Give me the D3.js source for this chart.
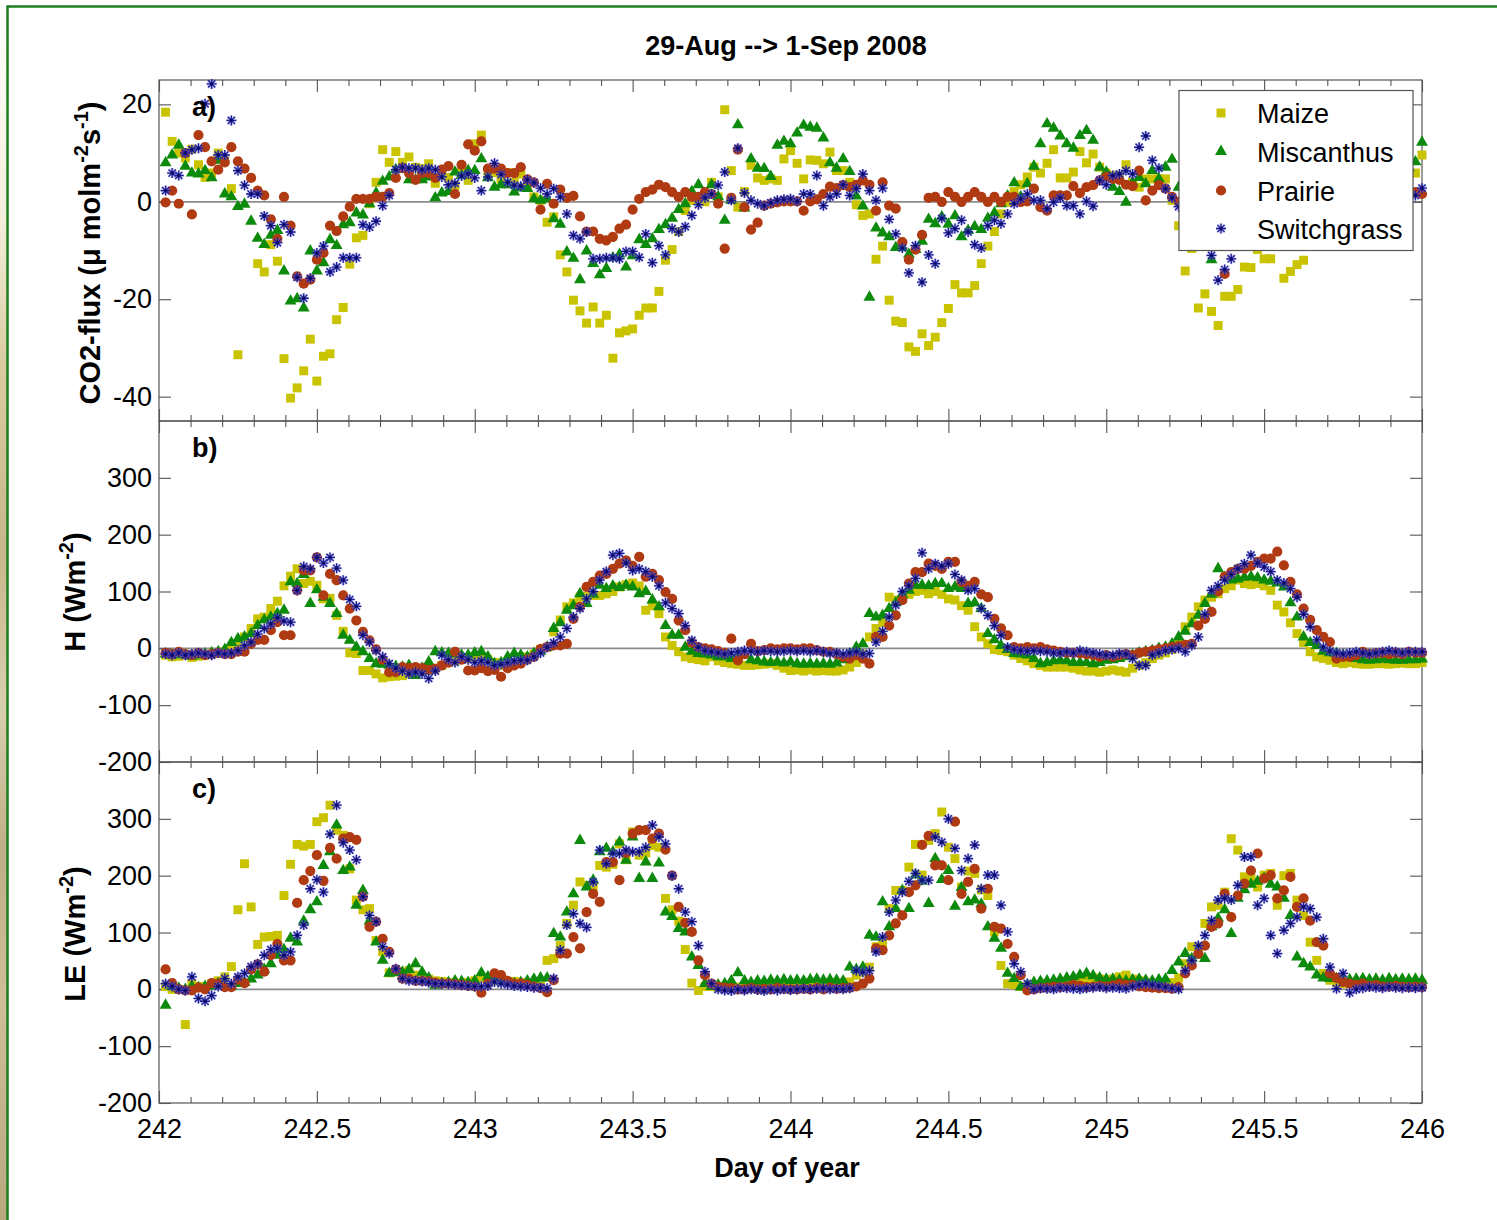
<!DOCTYPE html>
<html>
<head>
<meta charset="utf-8">
<script src="https://cdn.jsdelivr.net/npm/d3@7"></script>
<style>
  html, body { margin: 0; padding: 0; background: #ffffff; }
  svg { display: block; }
</style>
</head>
<body>
<svg id="fig" width="1497" height="1220"></svg>
<script>
// Half-hourly flux records, day of year 242-246 (29 Aug - 1 Sep 2008).
// Sample i sits at day 242 + (i + 1) / 48.
const firstDay = 242;
const samplesPerDay = 48;

const seriesNames = ["Maize", "Miscanthus", "Prairie", "Switchgrass"];
const xMajorTicks = [242, 242.5, 243, 243.5, 244, 244.5, 245, 245.5, 246];
const co2Ticks = [-40, -20, 0, 20];
const energyTicks = [-200, -100, 0, 100, 200, 300];

// a) CO2 flux (umol m-2 s-1)
const co2Maize = [
  18.4, 12.4, 10, 9, 10.8, 7.6, 5, 5.9, 10, 8.5, 2.7, -31.4,
  null, null, -12.7, -14.4, -8.8, -12.2, -32.2, -40.3, -38.2, -34.7, -28.2, -36.8,
  -31.7, -31.2, -24.2, -21.7, -12.8, -7.4, -6.9, -0.4, 4, 10.7, 8.1, 10.3,
  8.1, 9.2, 7.1, 6.8, 7.8, 3.8, 5.4, 5, 3.3, 6, 4.4, 11.9,
  13.7, 5.5, 6, 4.7, 6, 4, 5.7, 3, 1, 0.3, -4.2, -3.1,
  -10.9, -14.4, -20.2, -22.4, -24.9, -21.6, -24.9, -23.3, -32.1, -26.9, -26.5, -26.1,
  -23.3, -21.8, -21.8, -18.4, -12, -9.8, -6.1, -1.8, 0.3, 0.6, 0, 4,
  1, 18.9, 6.4, -1.1, 2.1, 7.5, 4.9, 4.4, 4.7, 4.4, 8.8, 10.5,
  7.9, 4.7, 8.6, 8.5, 7.8, 10.2, 6.4, 6.4, 4, -0.6, -2.8, -2.5,
  -11.8, -9.1, -20.2, -24.5, -24.8, -29.8, -30.7, -27.1, -29.5, -27.8, -24.8, -21.9,
  -17, -18.7, -18.7, -17.2, -12.7, -9.1, -6.1, -2.5, -0.1, 2.1, 3.5, 5.1,
  7.1, 5.9, 7.9, 10.7, 4.9, 4.9, 6.1, 10.3, 8, 9.8, 7.1, 5.9,
  5.4, 5.4, 7.6, 4, 3, 4.7, 4.7, 4.7, 4.7, 0.3, -4.9, -14.2,
  -9.6, -21.8, -18.9, -22.5, -25.4, -19.4, -19.4, -18, -13.4, -13.5, -9.8, -11.7,
  -11.7, null, -15.7, -14.3, -12.9, -12, -8, -6, -4, -2, 0, 1,
  2, 3, 4, 4, 5, 5, 4, 5, 6, 5, 5.9, 9.6
];
const co2Miscanthus = [
  8, 9.6, 11.6, 7.3, 5.9, 5.7, 6.4, 4.9, 8.5, 1.6, 1, -1,
  -0.5, -4, -7.5, -8.8, -6.9, -5.9, -14.2, -20.4, -19.9, -21.8, -10.1, -14.2,
  -12.5, -7.8, -9, -4.7, -4.3, -2.3, -2.7, -0.4, 1.8, 4.2, 5.1, 6.6,
  6.8, 4.5, 4.5, 4.5, 5.1, 0.8, 1.8, 2.1, 6.1, 5.4, 6.4, 6.4,
  8.8, 4.9, 3, 3.5, 3.5, 2, 2.8, 2.7, 0.6, 0.3, 0.6, -3.5,
  -4.6, -10.3, -11.6, -16, -10.1, -12.7, -15, -13.7, -11.5, -10.8, -13.4, -11.1,
  -7.8, -8.8, -7.6, -5.7, -4.7, -3.4, -1.6, -0.4, 2.1, 3.5, 1.4, 3.5,
  1, -3.8, 0.3, 15.8, -1.3, 8.8, 6.9, 6.8, 5.2, 11.6, 12.4, 11.9,
  14.1, 15.7, 15.3, 15.1, 13.1, 8, 6.9, 8.8, 6.2, 1.2, -0.9, -19.6,
  -5.4, -6.4, -7.2, -9.4, -9.4, -10.8, -9.8, -8.1, -3.6, -4.5, -3.1, -4.6,
  -2.9, -7.2, -5.9, -5.1, -5.7, -3.4, -2.3, -0.4, 1.2, 3.9, 1, 3.7,
  7.3, 11.9, 16, 15.1, 13.5, 11.9, 11, 13.6, 14.6, 12.6, 7.1, 6.1,
  3, 2.1, -0.1, 4, 5, 3.7, 6.4, 4.7, 7.1, 8.7, 3, 0,
  -3, -6, -8, -11.9, -8, -7, -6, -5, -5, -4, -3, -2,
  -1, 0, 1, 2, 3, 3, 4, 5, 5, 6, 7, 6,
  7, 8, 7, 8, 8, 9, 8, 9, 9, 7, 8.2, 12.2
];
const co2Prairie = [
  -0.1, 2.3, -0.4, 10, -2.6, 13.7, 11.2, 8.3, 6.6, 8.1, 11.2, 8.3,
  6.8, 4.9, 2.3, 1.3, -3.6, -7.6, 1, -4.9, -15.3, -16.8, -16, -11.9,
  -10.5, -4.9, -6, -3, -1, 0.6, 0.6, 0.6, 1, 1, 1.8, 4.9,
  6.9, 5.9, 4.5, 5.9, 5.9, 4.9, 6.6, 7.3, 1.6, 7.6, 11.8, 10.5,
  12.4, 6.8, 6.8, 6.8, 5.9, 5.9, 7.1, 4.6, 4, -1.6, 3.7, -0.4,
  2.5, 0.8, 1.2, -3, -6.1, -6.1, -7.6, -7.9, -7.2, -5.5, -4.7, -1.6,
  0.6, 2, 2.5, 3.5, 3, 2, 1, 2, 1, 1, 2, 1.6,
  -0.4, -9.6, 0.8, 10.7, -1.1, -5.7, -4.3, -0.8, -0.4, -0.1, 0.1, 0.1,
  0.1, -1.8, 0.1, 0.5, 1.6, 3.1, 2.8, 3.4, 3, 3.5, 4.4, 3.5,
  -1.8, 4, -0.8, -1.4, -8.3, -11.9, -9.8, -6.8, 0.8, 1, 0, 2,
  1, 0, 1, 2, 1, 0, 1, 0, 1, 1, 0, 0.1,
  2.7, -1.1, -1.8, 1.3, 1.3, 1.3, 3.2, 1.8, 3, 3.4, 4.4, 5.1,
  4.7, 4.5, 3.5, 3.2, 6.4, 0.3, 2.3, 3.4, 2.7, 1, 0, -2,
  -4, -6, -8, -9, -9, -14.8, -8, -7, -5, -4, -3, -2,
  -1, 0, 1, 1, 2, 2, 2, 3, 2, 3, 2, 3,
  2, 3, 2, 2, 3, 2, 2, 3, 2, 2, 2, 1.6
];
const co2Switchgrass = [
  2.3, 5.9, 5.4, 10, 10.7, 11, 20.1, 24.2, 9.6, 9.6, 16.7, 6.4,
  3.4, 1.6, 1.6, -2.9, -4.9, -8.4, -4.7, -6.2, -15.5, -19.8, -15.7, -10.5,
  -9.1, -14.4, -13.4, -11.5, -11.5, -11.5, -4.7, -5.2, -4, -0.8, 1.3, 6.6,
  7.1, 6.9, 6.9, 6.6, 6.9, 6.6, 5.1, 3.5, 3.8, 5.3, 5.7, 4.9,
  2.3, 5.1, 7.9, 5.6, 4, 3.4, 3.2, 4.5, 3.9, 2.8, 1.6, 2.7,
  1, -2.5, -6.9, -7.6, -6.2, -11.7, -11.7, -11.5, -11.5, -11.7, -10.2, -10.2,
  -11.4, -6.6, -12.5, -9, -10.9, -5.5, -6.2, -5.1, -2.8, -0.6, 0.8, 1.6,
  3.4, 6.1, 0.3, 11, 1.8, 0.3, -0.4, -0.8, -0.2, 0.3, 0.5, 0.6,
  0.1, 1.6, 1.6, 5.4, -0.8, 1, 1.6, 3.5, 1.3, 2.7, 5.7, 2.3,
  0.3, 2.8, -3.6, -6.6, -9.5, -14.6, -9, -16.5, -10.9, -12.7, -3.4, -6.4,
  -5.5, -3.8, -6.2, -8.8, -9.5, -4.9, -3.8, -4.5, -2.5, -0.4, 0.6, 1.6,
  0.3, 0.3, -1.4, -0.1, 0.8, -0.8, -0.8, -2.5, 0.1, -0.9, 4.4, 3.5,
  5.4, 5.7, 6.4, 5.7, 11.2, 13.5, 8.5, 6.9, 2.7, 0.8, -1, -3,
  -5, -7, -9, -11, -16.1, -13.9, -11.7, -8, -7, -6, -5, -4,
  -3, -2, -1, 0, 1, 1, 2, 2, 3, 2, 3, 2,
  3, 2, 3, 2, 2, 3, 2, 2, 2, 1, 1.3, 2.8
];

// b) sensible heat flux H (W m-2)
const hMaize = [
  -12, -15, -14, -12, -16, -14, -12, -10, -9, -6, -2, 8,
  20, 35, 52, 55, 70, 83, 110, 127, 140, 114, 118, 111,
  87, 88, 58, 30, -8, -9, -39, -39, -45, -52, -50, -49,
  -48, -45, -40, -40, -38, -35, -30, -25, -22, -20, -18, -15,
  -15, -20, -25, -30, -30, -25, -20, -15, -10, -2, 2, 29,
  50, 73, 80, 90, 92, 93, 93, 96, 100, 108, 112, 115,
  110, 67, 75, 61, 20, 5, -6, -15, -18, -20, -22, -15,
  -22, -25, -27, -28, -30, -30, -29, -28, -27, -30, -35, -39,
  -38, -40, -38, -40, -39, -40, -40, -38, -33, -25, -10, 20,
  35, 46, 90, 85, 87, 95, 100, 102, 96, 100, 95, 87,
  85, 75, 67, 38, 20, 8, -2, -4, -6, -12, -18, -22,
  -27, -30, -33, -33, -33, -33, -35, -38, -40, -40, -42, -40,
  -38, -40, -42, -35, -30, -25, -18, -12, -8, -2, 10, 38,
  55, 73, 85, 90, 96, 105, 110, 120, 114, 112, 114, 110,
  102, 76, 64, 45, 26, 10, -6, -15, -18, -21, -25, -27,
  -25, -27, -28, -28, -27, -27, -28, -27, -26, -27, -27, -25
];
const hMiscanthus = [
  -10, -12, -10, -12, -14, -12, -10, -8, -6, -2, 10, 17,
  20, 26, 40, 50, 55, 61, 67, 117, 114, 130, 79, 103,
  90, 79, 61, 23, 14, 2, -6, -18, -27, -28, -30, -32,
  -33, -30, -48, -35, -24, -6, -8, -9, -10, -12, -12, -8,
  -6, -15, -27, -25, -15, -9, -12, -15, -9, -5, 2, 35,
  45, 67, 75, 96, 79, 95, 111, 105, 110, 107, 111, 108,
  96, 100, 85, 73, 40, 23, 23, 2, -5, -9, -10, -12,
  -15, -15, -18, -12, -12, -20, -22, -24, -25, -24, -26, -24,
  -27, -28, -27, -28, -27, -28, -26, -20, -10, 2, 8, 61,
  55, 58, 70, 80, 95, 102, 111, 111, 110, 114, 114, 105,
  108, 105, 79, 80, 70, 26, 15, 5, -2, -9, -10, -12,
  -18, -27, -25, -22, -21, -22, -25, -25, -25, -27, -25, -21,
  -20, -18, -15, -12, -8, -6, -4, 0, 2, 8, 20, 30,
  43, 58, 79, 95, 140, 125, 120, 122, 125, 126, 124, 120,
  118, 115, 108, 80, 55, 20, 10, 5, -5, -8, -9, -12,
  -15, -18, -20, -21, -20, -19, -20, -21, -21, -20, -20, -19
];
const hPrairie = [
  -8, -10, -6, -10, -12, -8, -12, -10, -8, -10, -10, -6,
  -6, 8, 15, 15, 32, 46, 23, 23, 102, 137, 137, 160,
  93, 131, 120, 93, 70, 49, 29, 14, -2, -20, -42, -42,
  -33, -35, -33, -35, -38, -36, -30, -25, -6, -20, -39, -39,
  -35, -40, -38, -50, -35, -30, -27, -20, -15, -1, 2, 5,
  5, 8, 52, 73, 108, 117, 128, 131, 140, 149, 155, 145,
  161, 126, 131, 120, 99, 87, 49, 32, 10, 2, 0, -2,
  -5, -8, 17, -21, -10, 8, -5, -3, 0, -2, 0, 0,
  -2, 0, 0, -3, -6, -6, -10, -15, -18, -12, -18, -27,
  20, 20, 40, 58, 85, 114, 134, 134, 149, 145, 140, 152,
  152, 117, 110, 117, 95, 90, 52, 35, 23, 2, 0, 2,
  0, 2, -2, -4, -6, -8, -8, -9, -10, -12, -15, -12,
  -15, -12, -10, -12, -8, -6, -4, -2, 0, 2, 4, 6,
  8, 40, 52, 64, 100, 126, 134, 140, 140, 145, 152, 158,
  158, 170, 146, 117, 95, 70, 50, 32, 20, 11, -18, -15,
  -15, -12, -6, -10, -9, -8, -10, -8, -10, -6, -8, -8
];
const hSwitchgrass = [
  -10, -12, -8, -12, -10, -8, -10, -12, -8, -10, -8, -4,
  5, 11, 25, 35, 43, 54, 48, 46, 102, 144, 140, 160,
  150, 160, 141, 120, 86, 74, 23, 11, -4, -15, -27, -35,
  -40, -45, -42, -45, -53, -40, -12, -20, -25, -15, -20, -25,
  -22, -25, -30, -28, -25, -22, -21, -21, -15, -8, 2, 10,
  20, 35, 55, 70, 87, 100, 120, 135, 164, 167, 150, 137,
  140, 135, 126, 110, 80, 70, 61, 40, 14, 2, -4, -6,
  -8, -10, -8, -6, -4, -5, -6, -4, -5, -6, -5, -4,
  -5, -4, -6, -4, -6, -9, -8, -10, -8, -6, -10, -9,
  11, 30, 55, 76, 100, 110, 123, 168, 140, 149, 145, 149,
  130, 120, 102, 105, 70, 58, 40, 23, 2, -2, -4, -5,
  -4, -5, -6, -8, -8, -6, -8, -4, -6, -8, -10, -12,
  -12, -9, -10, -18, -30, -30, -12, -8, -4, -2, 0, -6,
  5, 20, 60, 102, 110, 120, 130, 140, 149, 164, 150, 143,
  135, 120, 115, 105, 90, 60, 38, 15, 2, -5, -8, -10,
  -8, -6, -8, -10, -8, -6, -4, -6, -8, -6, -6, -6
];

// c) latent heat flux LE (W m-2)
const leMaize = [
  5, 0, 0, -62, 10, 5, 5, 10, 15, 22, 40, 140,
  221, 145, 79, 92, 93, 95, 165, 220, 255, 252, 255, 295,
  302, 324, 280, 271, 212, 157, 140, 142, 86, 66, 29, 33,
  30, 33, 25, 20, 18, 15, 14, 12, 10, 10, 12, 15,
  20, 18, 15, 15, 12, 14, 12, 10, 8, 6, 51, 54,
  77, 116, 148, 189, 183, 180, 218, 215, 220, 256, 228, 277,
  236, 240, 253, 250, 160, 140, 120, 70, 11, -2, 5, 5,
  3, 4, 5, 4, 3, 5, 4, 3, 5, 4, 5, 6,
  8, 10, 12, 10, 10, 12, 11, 10, 13, 25, 30, 39,
  75, 80, 142, 174, 174, 215, 255, 201, 262, 274, 312, 250,
  230, 180, 208, 204, 175, 165, 101, 42, 10, 8, 5, 5,
  5, 8, 10, 10, 12, 14, 15, 16, 18, 20, 18, 15,
  18, 22, 25, 18, 15, 12, 10, 10, 12, 12, 20, 45,
  75, 75, 116, 145, 148, 171, 265, 245, 198, 195, 180, 201,
  204, 148, 200, 204, 157, 130, 83, 51, 28, 16, 12, 10,
  12, 10, 12, 10, 12, 11, 10, 12, 10, 11, 12, 10
];
const leMiscanthus = [
  -28, 5, 2, 0, 5, 3, 5, 6, 10, 8, 5, 10,
  12, 18, 25, 35, 45, 60, 70, 90, 83, 120, 140, 154,
  218, 242, 289, 209, 215, 148, 174, 120, 83, 51, 28, 29,
  30, 35, 45, 30, 20, 7, 10, 12, 15, 14, 12, 15,
  29, 22, 18, 15, 12, 10, 12, 15, 18, 20, 20, 98,
  92, 136, 168, 262, 180, 192, 242, 248, 242, 259, 227, 268,
  195, 224, 195, 222, 136, 128, 107, 101, 57, 42, 10, 5,
  8, 10, 15, 29, 15, 12, 15, 14, 16, 15, 17, 15,
  16, 15, 17, 18, 16, 17, 16, 15, 39, 35, 39, 95,
  92, 154, 110, 142, 174, 142, 201, 190, 151, 230, 193, 209,
  146, 179, 154, 157, 150, 110, 90, 72, 28, 19, 4, 8,
  12, 14, 15, 16, 18, 20, 22, 25, 28, 24, 20, 18,
  18, 16, 15, 17, 18, 16, 15, 17, 18, 33, 48, 63,
  54, 60, 54, 110, 125, 140, 98, 160, 175, 185, 190, 195,
  185, 180, 160, 130, 57, 45, 39, 25, 20, 19, 19, 18,
  17, 18, 19, 17, 18, 16, 19, 17, 18, 17, 18, 16
];
const lePrairie = [
  35, 11, 0, -2, -2, 3, 0, 11, 10, 4, 4, 17,
  11, 35, 44, 31, 60, 80, 51, 51, 152, 192, 208, 236,
  191, 249, 230, 265, 268, 263, 163, 110, 119, 89, 66, 35,
  19, 19, 15, 15, 14, 12, 10, 10, 9, 8, 6, 5,
  -6, 10, 28, 25, 15, 10, 10, 8, 5, 2, -5, 16,
  63, 63, 92, 72, 136, 168, 154, 224, 224, 192, 240, 274,
  280, 280, 265, 274, 246, 200, 145, 117, 101, 51, 25, 10,
  5, 3, 2, 0, 0, 2, 0, 1, 0, 2, 1, 0,
  0, 1, 0, 2, 0, 3, 1, 2, 3, 5, 10, 19,
  72, 69, 95, 116, 130, 171, 183, 254, 270, 218, 218, 192,
  295, 168, 189, 212, 142, 177, 110, 107, 80, 57, 25, -2,
  0, 2, 3, 5, 4, 5, 8, 6, 4, 5, 6, 5,
  7, 10, 8, 8, 5, 4, 3, 2, 2, 1, 4, 28,
  42, 63, 77, 110, 116, 168, 127, 165, 186, 209, 239, 195,
  201, 160, 174, 198, 145, 160, 121, 83, 77, 28, 20, 13,
  10, 8, 10, 6, 8, 5, 5, 6, 5, 4, 5, 4
];
const leSwitchgrass = [
  10, 5, 0, -2, 22, -16, -21, -11, 5, 19, 10, 22,
  28, 40, 45, 60, 70, 72, 60, 66, 95, 113, 177, 193,
  171, 273, 324, 258, 245, 228, 163, 130, 119, 75, 63, 36,
  19, 15, 15, 14, 12, 10, 10, 9, 8, 7, 6, 5,
  5, 6, 13, 10, 8, 6, 5, 4, 3, 3, 2, 19,
  69, 113, 133, 116, 109, 189, 245, 221, 239, 239, 245, 242,
  242, 250, 289, 268, 256, 200, 177, 136, 119, 77, 31, 10,
  0, -2, -3, 0, -2, 0, -1, -3, 0, -2, 0, -1,
  0, 1, 0, 1, 2, 0, 1, 0, 2, 33, 30, 33,
  66, 92, 136, 157, 171, 190, 204, 192, 192, 268, 259, 300,
  248, 209, 230, 254, 177, 201, 201, 148, 101, 45, 31, 10,
  0, 2, 1, 0, 3, 2, 1, 0, 2, 3, 4, 2,
  3, 2, 1, 5, 8, 10, 8, 6, 4, 2, 0, 33,
  51, 77, 95, 121, 157, 160, 157, 183, 233, 233, 148, 160,
  95, 63, 104, 116, 127, 145, 142, 127, 89, 39, 1, 28,
  -6, 0, 2, 4, 3, 2, 4, 3, 2, 3, 2, 3
];

// ---------------------------------------------------------------------------
const svg = d3.select("#fig");
const FONT = "'Liberation Sans', Arial, Helvetica, sans-serif";
const plotLeft = 159, plotRight = 1422;

const x = d3.scaleLinear().domain([242, 246]).range([plotLeft, plotRight]);
const xMinorTicks = d3.range(0, 41).filter(i => i % 5 !== 0).map(i => 242 + i / 10);

const markerStyles = [
  { type: "square",   color: "#c9c300" },
  { type: "triangle", color: "#0c8a0c" },
  { type: "circle",   color: "#b03a12" },
  { type: "star",     color: "#1e1e98" }
];

function drawMarker(sel, style) {
  if (style.type === "square") {
    sel.append("path").attr("d", d3.symbol(d3.symbolSquare, 80)()).attr("fill", style.color);
  } else if (style.type === "triangle") {
    sel.append("path").attr("d", d3.symbol(d3.symbolTriangle, 62)()).attr("fill", style.color);
  } else if (style.type === "circle") {
    sel.append("path").attr("d", d3.symbol(d3.symbolCircle, 82)()).attr("fill", style.color);
  } else {
    sel.append("path")
      .attr("d", "M-5,0H5M0,-5V5M-3.6,-3.6L3.6,3.6M-3.6,3.6L3.6,-3.6")
      .attr("stroke", "#6a6ad8").attr("stroke-width", 2.6).attr("stroke-opacity", 0.45)
      .attr("fill", "none");
    sel.append("path")
      .attr("d", "M-5,0H5M0,-5V5M-3.6,-3.6L3.6,3.6M-3.6,3.6L3.6,-3.6")
      .attr("stroke", style.color).attr("stroke-width", 1.3).attr("fill", "none");
    sel.append("circle").attr("r", 1.7).attr("fill", "#0c0c6a");
  }
}

// ---- page frame: photo strip on the far left and the green border ----
const defs = svg.append("defs");
const strip = defs.append("linearGradient").attr("id", "stripGrad")
  .attr("x1", 0).attr("y1", 0).attr("x2", 0).attr("y2", 1);
[["0%", "#ffffff"], ["18%", "#f4eedb"], ["30%", "#d9cba0"], ["45%", "#c8b68c"],
 ["58%", "#d8cfae"], ["70%", "#bfae86"], ["82%", "#cdbf98"], ["100%", "#b9a77f"]]
  .forEach(([o, c]) => strip.append("stop").attr("offset", o).attr("stop-color", c));
svg.append("rect").attr("x", 0).attr("y", 0).attr("width", 7).attr("height", 1220)
  .attr("fill", "url(#stripGrad)");
svg.append("path").attr("d", "M7.5,1220V6.5H1497")
  .attr("fill", "none").attr("stroke", "#1f7f1f").attr("stroke-width", 2.5);

// ---- panels ----
const panels = [
  { top: 80,  bottom: 421,  domain: [-45, 25],   ticks: co2Ticks,    tag: "a)",
    data: [co2Maize, co2Miscanthus, co2Prairie, co2Switchgrass] },
  { top: 421, bottom: 762,  domain: [-200, 400], ticks: energyTicks, tag: "b)",
    data: [hMaize, hMiscanthus, hPrairie, hSwitchgrass] },
  { top: 762, bottom: 1103, domain: [-200, 400], ticks: energyTicks, tag: "c)",
    data: [leMaize, leMiscanthus, lePrairie, leSwitchgrass] }
];

function styleAxis(g, withText) {
  g.select(".domain").remove();
  g.selectAll(".tick line").attr("stroke", "#555").attr("stroke-width", 1.1);
  g.attr("font-family", FONT).attr("font-size", 27);
  g.selectAll(".tick text").attr("fill", "#000");
  if (!withText) g.selectAll(".tick text").remove();
}

panels.forEach((p, pi) => {
  const y = d3.scaleLinear().domain(p.domain).range([p.bottom, p.top]);
  const g = svg.append("g");

  // zero line
  g.append("line")
    .attr("x1", plotLeft).attr("x2", plotRight)
    .attr("y1", y(0)).attr("y2", y(0))
    .attr("stroke", "#8c8c8c").attr("stroke-width", 1.8);

  // y axes (ticks pointing inward)
  g.append("g").attr("transform", `translate(${plotLeft},0)`)
    .call(d3.axisLeft(y).tickValues(p.ticks).tickSize(-12).tickPadding(7)
      .tickFormat(d => String(d)))
    .call(a => styleAxis(a, true));
  g.append("g").attr("transform", `translate(${plotRight},0)`)
    .call(d3.axisRight(y).tickValues(p.ticks).tickSize(-12).tickFormat(""))
    .call(a => styleAxis(a, false));

  // x ticks on top and bottom edges
  g.append("g").attr("transform", `translate(0,${p.top})`)
    .call(d3.axisTop(x).tickValues(xMajorTicks).tickSize(-12).tickFormat(""))
    .call(a => styleAxis(a, false));
  g.append("g").attr("transform", `translate(0,${p.top})`)
    .call(d3.axisTop(x).tickValues(xMinorTicks).tickSize(-6).tickFormat(""))
    .call(a => styleAxis(a, false));
  const isLast = pi === panels.length - 1;
  g.append("g").attr("transform", `translate(0,${p.bottom})`)
    .call(d3.axisBottom(x).tickValues(xMajorTicks).tickSize(-12).tickPadding(16)
      .tickFormat(d => String(d)))
    .call(a => styleAxis(a, isLast));
  g.append("g").attr("transform", `translate(0,${p.bottom})`)
    .call(d3.axisBottom(x).tickValues(xMinorTicks).tickSize(-6).tickFormat(""))
    .call(a => styleAxis(a, false));

  // panel frame
  g.append("rect")
    .attr("x", plotLeft).attr("y", p.top)
    .attr("width", plotRight - plotLeft).attr("height", p.bottom - p.top)
    .attr("fill", "none").attr("stroke", "#555").attr("stroke-width", 1.2);

  // data, one layer per crop (later crops drawn on top)
  p.data.forEach((values, si) => {
    const pts = values
      .map((v, i) => ({ t: firstDay + (i + 1) / samplesPerDay, v }))
      .filter(d => d.v !== null);
    g.append("g").selectAll("g").data(pts).join("g")
      .attr("transform", d => `translate(${x(d.t)},${y(d.v)})`)
      .each(function () { drawMarker(d3.select(this), markerStyles[si]); });
  });

  // panel tag
  g.append("text")
    .attr("x", 192).attr("y", p.top + 36)
    .attr("font-family", FONT).attr("font-size", 27).attr("font-weight", "bold")
    .text(p.tag);
});

// ---- y-axis titles (superscripts raised, following text dropped back) ----
function yTitle(cx, cy, parts) {
  const t = svg.append("text")
    .attr("transform", `translate(${cx},${cy}) rotate(-90)`)
    .attr("text-anchor", "middle")
    .attr("font-family", FONT).attr("font-size", 29).attr("font-weight", "bold");
  let raised = false;
  parts.forEach(([txt, sup]) => {
    const s = t.append("tspan").text(txt);
    if (sup) {
      s.attr("font-size", 20).attr("dy", -12);
      raised = true;
    } else if (raised) {
      s.attr("dy", 12);
      raised = false;
    }
  });
}
yTitle(100, 253, [["CO2-flux (\u03bc molm", false], ["-2", true], ["s", false], ["-1", true], [")", false]]);
yTitle(85, 592, [["H (Wm", false], ["-2", true], [")", false]]);
yTitle(85, 934, [["LE (Wm", false], ["-2", true], [")", false]]);

// ---- title and x label ----
svg.append("text")
  .attr("x", 786).attr("y", 55).attr("text-anchor", "middle")
  .attr("font-family", FONT).attr("font-size", 27).attr("font-weight", "bold")
  .text("29-Aug --> 1-Sep 2008");
svg.append("text")
  .attr("x", 787).attr("y", 1177).attr("text-anchor", "middle")
  .attr("font-family", FONT).attr("font-size", 27).attr("font-weight", "bold")
  .text("Day of year");

// ---- legend ----
const legend = svg.append("g");
legend.append("rect")
  .attr("x", 1179).attr("y", 90.5).attr("width", 234).attr("height", 160)
  .attr("fill", "#fff").attr("stroke", "#555").attr("stroke-width", 1.2);
const legendRows = [113, 151.5, 190.5, 228.5];
seriesNames.forEach((name, i) => {
  const row = legend.append("g").attr("transform", `translate(1221,${legendRows[i]})`);
  drawMarker(row, markerStyles[i]);
  legend.append("text")
    .attr("x", 1257).attr("y", legendRows[i] + 10)
    .attr("font-family", FONT).attr("font-size", 27)
    .text(name);
});
</script>
</body>
</html>
